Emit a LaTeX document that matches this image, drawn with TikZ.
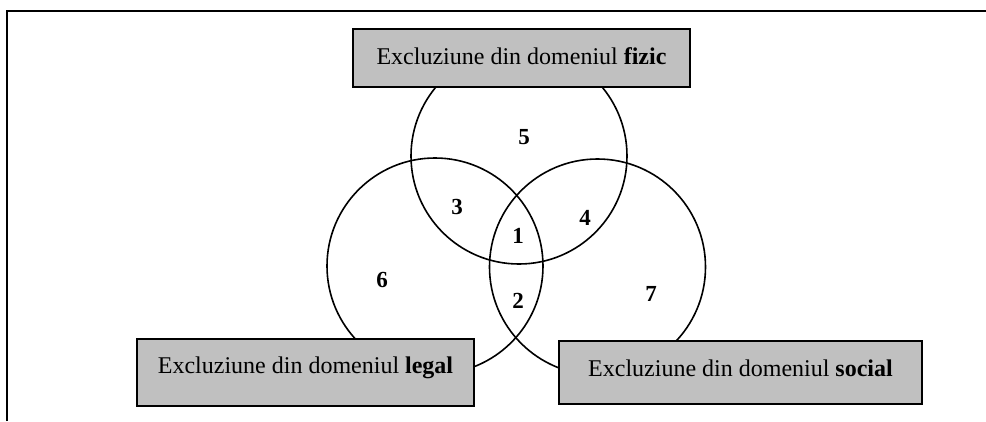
\documentclass[tikz,border=0pt]{standalone}
\usepackage{fontspec}
\setmainfont{Liberation Serif}
\begin{document}
\begin{tikzpicture}[x=1pt,y=-1pt,
  venn/.style={circle,draw=black,line width=1.6pt,minimum size=216pt,inner sep=0pt},
  lbox/.style={draw=black,line width=1.5pt,fill={rgb,255:red,192;green,192;blue,192},inner sep=0pt,font=\fontsize{24}{28}\selectfont},
  num/.style={font=\fontsize{23}{26}\selectfont\bfseries,inner sep=0pt}]
\useasboundingbox (0,0) rectangle (986,421);
\coordinate (fa) at (7,421);
\coordinate (fb) at (7,11);
\coordinate (fc) at (986,11);
\draw[line width=2pt] (fa) -- (fb) -- (fc);
\node[venn] (ctop) at (519,156) {};
\node[venn] (cleft) at (435,266) {};
\node[venn] (cright) at (597.5,267) {};
\node[lbox,minimum width=337pt,minimum height=58pt] (fizic) at (521.5,58) {};
\node[lbox,minimum width=337pt,minimum height=67pt] (legal) at (305.5,372.5) {};
\node[lbox,minimum width=363pt,minimum height=63pt] (social) at (740.5,372.5) {};
\node[lbox,draw=none,fill=none] (tfizic) at ([yshift=2pt]fizic.center) {Excluziune din domeniul \textbf{fizic}};
\node[lbox,draw=none,fill=none] (tlegal) at ([yshift=5pt]legal.center) {Excluziune din domeniul \textbf{legal}};
\node[lbox,draw=none,fill=none] (tsocial) at ([yshift=4pt]social.center) {Excluziune din domeniul \textbf{social}};
\node[num] (n5) at (524,137) {5};
\node[num] (n3) at (457,207) {3};
\node[num] (n4) at (585,218) {4};
\node[num] (n1) at (518,236) {1};
\node[num] (n6) at (382,280) {6};
\node[num] (n2) at (518,301) {2};
\node[num] (n7) at (651,294) {7};
\end{tikzpicture}
\end{document}
